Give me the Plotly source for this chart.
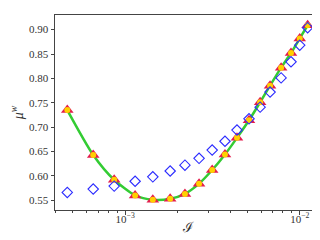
import plotly.graph_objects as go

# intensity values (x, log axis)
I_vals = [4.66e-4, 6.56e-4, 8.65e-4, 1.14e-3, 1.44e-3, 1.81e-3, 2.20e-3, 2.65e-3,
          3.15e-3, 3.73e-3, 4.37e-3, 5.12e-3, 5.93e-3, 6.76e-3, 7.82e-3, 8.91e-3,
          1.00e-2, 1.11e-2]
# model (triangles / circles / fit line)
mu_model = [0.735, 0.643, 0.592, 0.560, 0.551, 0.553, 0.563, 0.584, 0.612, 0.644,
            0.678, 0.714, 0.751, 0.785, 0.822, 0.852, 0.882, 0.909]
# other data (open diamonds)
mu_data = [0.566, 0.573, 0.579, 0.589, 0.598, 0.610, 0.622, 0.636, 0.653, 0.671,
           0.694, 0.717, 0.741, 0.772, 0.801, 0.834, 0.868, 0.904]

y_ticks = [0.55, 0.60, 0.65, 0.70, 0.75, 0.80, 0.85, 0.90]
x_major = [1e-3, 1e-2]
x_major_text = ["10<sup>−3</sup>", "10<sup>−2</sup>"]
x_minor = [4e-4, 5e-4, 6e-4, 7e-4, 8e-4, 9e-4, 2e-3, 3e-3, 4e-3, 5e-3, 6e-3, 7e-3, 8e-3, 9e-3]

font = "Liberation Serif"
axcol = "#444444"

fig = go.Figure()
fig.add_trace(go.Scatter(x=I_vals, y=mu_model, mode="lines",
                         line=dict(color="#33cc33", width=2.5, shape="spline", smoothing=0.7),
                         showlegend=False, hoverinfo="skip"))
fig.add_trace(go.Scatter(x=I_vals, y=mu_model, mode="markers",
                         marker=dict(symbol="triangle-up", size=11, color="#e31c4c",
                                     line=dict(width=0)),
                         showlegend=False))
fig.add_trace(go.Scatter(x=I_vals, y=mu_model, mode="markers",
                         marker=dict(symbol="circle", size=6, color="#ffd000",
                                     line=dict(width=0)),
                         showlegend=False))
fig.add_trace(go.Scatter(x=I_vals, y=mu_data, mode="markers",
                         marker=dict(symbol="diamond-open", size=8, color="#2b2bff",
                                     line=dict(width=1.1)),
                         showlegend=False))

fig.update_layout(
    width=320, height=240,
    margin=dict(l=47, r=8, t=7, b=38),
    paper_bgcolor="white", plot_bgcolor="white",
    font=dict(family=font, size=11, color="#333333"),
    annotations=[dict(text="ℐ", xref="paper", yref="paper", x=0.5, y=-0.085,
                      xanchor="center", yanchor="middle", showarrow=False,
                      font=dict(family="DejaVu Serif", size=14, color="#333333"))],
)
fig.update_xaxes(type="log", range=[-3.402, -1.884],
                 tickvals=x_major, ticktext=x_major_text,
                 ticks="outside", ticklen=3.5, tickwidth=0.8, tickcolor=axcol,
                 ticklabelstandoff=-5,
                 minor=dict(tickvals=x_minor, ticks="outside", ticklen=2, tickwidth=0.6,
                            tickcolor=axcol, showgrid=False),
                 showgrid=False, zeroline=False,
                 showline=True, linecolor=axcol, linewidth=1, mirror=True)
fig.update_yaxes(range=[0.530, 0.930], tickvals=y_ticks,
                 ticktext=[f"{v:.2f}" for v in y_ticks],
                 ticks="outside", ticklen=3.5, tickwidth=0.8, tickcolor=axcol,
                 showgrid=False, zeroline=False,
                 showline=True, linecolor=axcol, linewidth=1, mirror=True,
                 title=dict(text="<i>μ</i><sup><i>w</i></sup>", font=dict(family=font, size=14), standoff=4))

fig.write_html("out.html")
